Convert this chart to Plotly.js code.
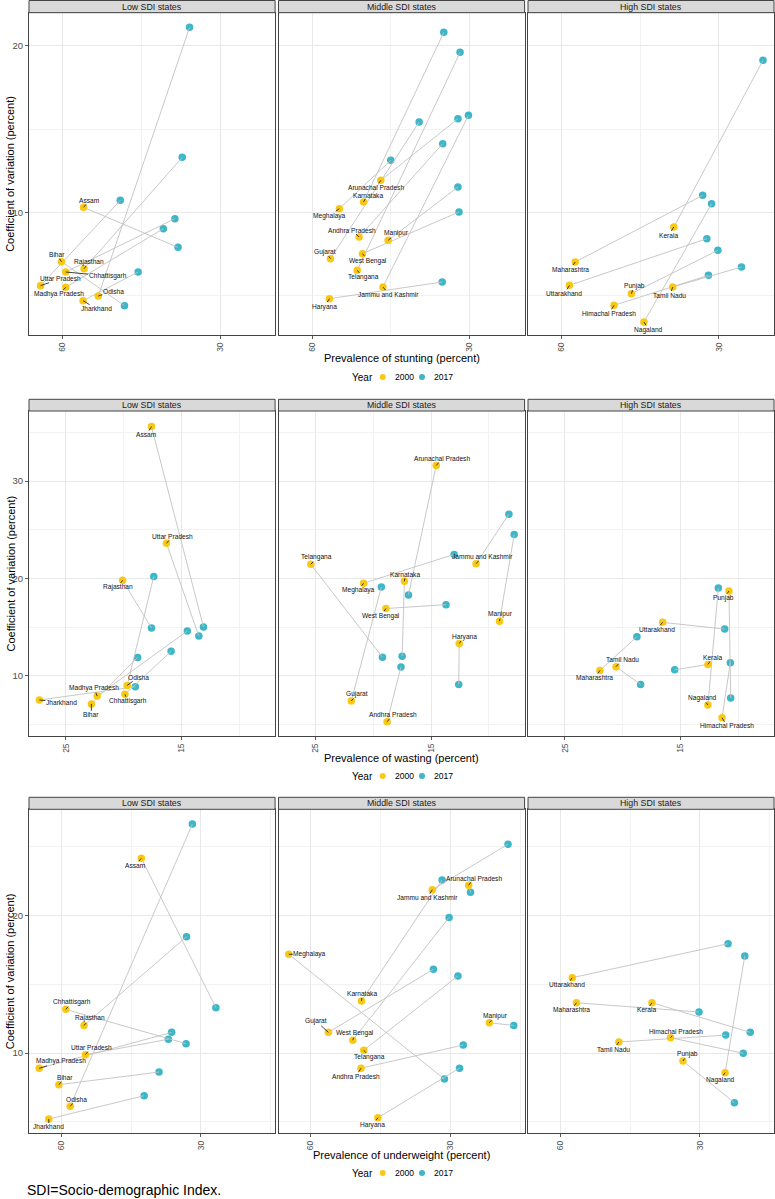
<!DOCTYPE html>
<html><head><meta charset="utf-8">
<script src="https://cdn.plot.ly/plotly-3.0.1.min.js"></script>
<style>html,body{margin:0;padding:0;background:#fff}</style>
</head><body><div id="chart" style="width:775px;height:1199px"></div>
<script>
// ---------- DATA ----------
const panelTitles = ["Low SDI states", "Middle SDI states", "High SDI states"];
const xTitles = ["Prevalence of stunting (percent)", "Prevalence of wasting (percent)", "Prevalence of underweight (percent)"];
const yTitle = "Coefficient of variation (percent)";
const years = ["2000", "2017"];
const footnote = "SDI=Socio-demographic Index.";

const stuntXTicks = [30, 60], stuntYTicks = [10, 20];
const wastXTicks = [15, 25], wastYTicks = [10, 20, 30];
const underXTicks = [30, 60], underYTicks = [10, 20];

// Stunting - Low SDI
const stuntLowStates = ["Assam","Bihar","Rajasthan","Chhattisgarh","Uttar Pradesh","Madhya Pradesh","Odisha","Jharkhand"];
const stuntLowX2000 = [56.0, 60.2, 55.9, 59.4, 64.2, 59.4, 53.2, 56.1];
const stuntLowY2000 = [10.3, 7.04, 6.62, 6.42, 5.6, 5.5, 4.98, 4.7];
const stuntLowX2017 = [38.0, 48.2, 37.2, 38.6, 49.0, 40.8, 35.8, 45.6];
const stuntLowY2017 = [7.9, 4.4, 13.3, 9.62, 10.72, 9.02, 21.1, 6.42];
// Stunting - Middle SDI
const stuntMidStates = ["Arunachal Pradesh","Karnataka","Meghalaya","Andhra Pradesh","Manipur","Gujarat","West Bengal","Telangana","Jammu and Kashmir","Haryana"];
const stuntMidX2000 = [46.9, 50.2, 54.8, 51.05, 45.5, 56.5, 50.4, 51.4, 46.5, 56.7];
const stuntMidY2000 = [11.92, 10.62, 10.22, 8.52, 8.32, 7.22, 7.52, 6.52, 5.52, 4.82];
const stuntMidX2017 = [32.2, 34.9, 45.0, 35.1, 32.2, 39.6, 32.0, 31.8, 30.2, 35.2];
const stuntMidY2017 = [15.62, 20.8, 13.12, 14.12, 11.52, 15.42, 10.02, 19.6, 15.82, 5.82];
// Stunting - High SDI
const stuntHighStates = ["Kerala","Maharashtra","Uttarakhand","Punjab","Tamil Nadu","Himachal Pradesh","Nagaland"];
const stuntHighX2000 = [38.6, 57.4, 58.5, 46.7, 38.8, 50.0, 44.3];
const stuntHighY2000 = [9.12, 7.02, 5.62, 5.12, 5.52, 4.42, 3.42];
const stuntHighX2017 = [21.6, 33.1, 32.3, 30.2, 25.7, 32.0, 31.4];
const stuntHighY2017 = [19.12, 11.02, 8.42, 7.72, 6.72, 6.22, 10.52];

// Wasting - Low SDI
const wastLowStates = ["Assam","Uttar Pradesh","Rajasthan","Odisha","Madhya Pradesh","Chhattisgarh","Jharkhand","Bihar"];
const wastLowX2000 = [17.6, 16.3, 20.1, 19.7, 22.3, 19.9, 27.3, 22.8];
const wastLowY2000 = [35.6, 23.6, 19.8, 9.0, 7.9, 8.08, 7.5, 7.1];
const wastLowX2017 = [13.1, 13.5, 17.6, 17.4, 14.5, 15.9, 19.0, 18.8];
const wastLowY2017 = [15.0, 14.07, 14.9, 20.2, 14.58, 12.5, 8.86, 11.88];
// Wasting - Middle SDI
const wastMidStates = ["Arunachal Pradesh","Telangana","Jammu and Kashmir","Meghalaya","Karnataka","West Bengal","Manipur","Haryana","Gujarat","Andhra Pradesh"];
const wastMidX2000 = [14.55, 25.4, 11.1, 20.84, 17.3, 18.9, 9.07, 12.56, 21.9, 18.8];
const wastMidY2000 = [31.6, 21.44, 21.5, 19.5, 19.7, 16.9, 15.6, 13.3, 7.4, 5.27];
const wastMidX2017 = [16.95, 19.2, 8.26, 13.0, 17.5, 13.7, 7.8, 12.6, 19.3, 17.6];
const wastMidY2017 = [18.3, 11.9, 26.6, 22.46, 12.0, 17.3, 24.5, 9.1, 19.1, 10.9];
// Wasting - High SDI
const wastHighStates = ["Punjab","Uttarakhand","Tamil Nadu","Maharashtra","Kerala","Nagaland","Himachal Pradesh"];
const wastHighX2000 = [10.8, 16.54, 20.58, 21.97, 12.62, 12.62, 11.4];
const wastHighY2000 = [18.7, 15.48, 10.92, 10.54, 11.16, 6.98, 5.67];
const wastHighX2017 = [10.65, 11.17, 18.45, 18.77, 15.5, 11.72, 10.68];
const wastHighY2017 = [7.7, 14.79, 9.1, 14.0, 10.6, 19.0, 11.33];

// Underweight - Low SDI
const underLowStates = ["Assam","Chhattisgarh","Rajasthan","Uttar Pradesh","Madhya Pradesh","Bihar","Odisha","Jharkhand"];
const underLowX2000 = [42.8, 59.0, 55.1, 54.8, 64.7, 60.5, 58.06, 62.65];
const underLowY2000 = [24.14, 13.17, 12.0, 9.88, 8.89, 7.7, 6.13, 5.21];
const underLowX2017 = [26.8, 33.2, 33.1, 37.0, 36.3, 39.0, 31.85, 42.2];
const underLowY2017 = [13.29, 10.68, 18.45, 11.0, 11.5, 8.62, 26.63, 6.9];
// Underweight - Middle SDI
const underMidStates = ["Arunachal Pradesh","Jammu and Kashmir","Meghalaya","Karnataka","Manipur","Gujarat","West Bengal","Telangana","Andhra Pradesh","Haryana"];
const underMidX2000 = [26.1, 33.9, 64.7, 49.1, 21.66, 56.2, 50.95, 48.6, 49.2, 45.57];
const underMidY2000 = [22.18, 21.86, 17.17, 13.78, 12.2, 11.5, 10.93, 10.2, 8.9, 5.3];
const underMidX2017 = [25.7, 17.66, 31.3, 31.8, 16.43, 33.66, 30.3, 28.4, 27.26, 28.06];
const underMidY2017 = [21.67, 25.16, 8.11, 22.56, 12.0, 16.08, 19.85, 15.6, 10.58, 8.9];
// Underweight - High SDI
const underHighStates = ["Uttarakhand","Maharashtra","Kerala","Himachal Pradesh","Tamil Nadu","Punjab","Nagaland"];
const underHighX2000 = [57.4, 56.5, 40.3, 36.3, 47.4, 33.65, 24.6];
const underHighY2000 = [15.47, 13.65, 13.65, 11.11, 10.8, 9.42, 8.57];
const underHighX2017 = [23.96, 30.2, 19.2, 20.7, 24.46, 22.6, 20.37];
const underHighY2017 = [17.94, 12.98, 11.5, 9.98, 11.3, 6.39, 17.04];

// ---------- LABEL PLACEMENT (pixel offsets of each state label from its 2000 point) ----------
const labelOffsets = [
  [[6,-7],[-5,-7],[5,-7],[42,4],[20,-7],[-7,7],[15,-5],[13,8]],
  [[-5,7],[4,-7],[-10,7],[-7,-7],[8,-7],[-5,-7],[6,7],[6,7],[6,7],[-5,8]],
  [[-5,8],[-5,7],[-5,8],[3,-8],[-3,8],[-5,8],[5,8]],
  [[-5,8],[6,-7],[-5,7],[11,-8],[-3,-8],[3,7],[22,2],[0,11]],
  [[6,-7],[6,-7],[6,-7],[-5,7],[1,-7],[-5,7],[1,-7],[5,-7],[6,-7],[6,-7]],
  [[-5,7],[-6,7],[6,-7],[-5,7],[5,-7],[-5,-7],[5,8]],
  [[-6,7],[6,-7],[6,-7],[6,-7],[22,-7],[6,-7],[6,-7],[0,8]],
  [[5,-7],[-5,8],[21,0],[1,-7],[6,-7],[-12,-11],[2,-7],[6,7],[-5,8],[-5,7]],
  [[-5,7],[-5,7],[-5,7],[5,-6],[-5,7],[5,-7],[-5,7]]
];

// ---------- LAYOUT GEOMETRY ----------
const W = 775, H = 1199;
const FONT = "Liberation Sans, Arial, Helvetica, sans-serif";
const YELLOW = "#F9C814", TEAL = "#3DB6C8";
const colX = [[29, 275.1], [278.5, 524.6], [528, 774]];
const rows = [
  {strip:[0.5,12.7], plot:[12.7,335], title:358, legend:377,
   xRange:[66.4,19.5], yRange:[2.64,21.98], xTicks:stuntXTicks, xMinor:[15,45], yTicks:stuntYTicks, yMinor:[5,15]},
  {strip:[399.3,411], plot:[411,736], title:757.7, legend:776,
   xRange:[28.2,6.9], yRange:[3.8,37.2], xTicks:wastXTicks, xMinor:[10,20], yTicks:wastYTicks, yMinor:[5,15,25,35]},
  {strip:[797.3,809.3], plot:[809.3,1133.3], title:1155, legend:1173,
   xRange:[66.9,14.1], yRange:[4.17,27.7], xTicks:underXTicks, xMinor:[15,45], yTicks:underYTicks, yMinor:[5,15,25]}
];
const facets = [
  [stuntLowStates, stuntLowX2000, stuntLowY2000, stuntLowX2017, stuntLowY2017],
  [stuntMidStates, stuntMidX2000, stuntMidY2000, stuntMidX2017, stuntMidY2017],
  [stuntHighStates, stuntHighX2000, stuntHighY2000, stuntHighX2017, stuntHighY2017],
  [wastLowStates, wastLowX2000, wastLowY2000, wastLowX2017, wastLowY2017],
  [wastMidStates, wastMidX2000, wastMidY2000, wastMidX2017, wastMidY2017],
  [wastHighStates, wastHighX2000, wastHighY2000, wastHighX2017, wastHighY2017],
  [underLowStates, underLowX2000, underLowY2000, underLowX2017, underLowY2017],
  [underMidStates, underMidX2000, underMidY2000, underMidX2017, underMidY2017],
  [underHighStates, underHighX2000, underHighY2000, underHighX2017, underHighY2017]
];

const fx = px => px / W;
const fy = py => 1 - py / H;

const traces = [], annotations = [], shapes = [];
const layout = {
  width: W, height: H, margin: {l:0, r:0, t:0, b:0},
  paper_bgcolor: "#fff", plot_bgcolor: "#fff",
  showlegend: false, font: {family: FONT, color: "#000"}
};

facets.forEach((f, i) => {
  const r = Math.floor(i / 3), c = i % 3, row = rows[r];
  const n = i + 1, sfx = n === 1 ? "" : String(n);
  const xa = "x" + sfx, ya = "y" + sfx;
  const [states, x0, y0, x1, y1] = f;

  layout["xaxis" + sfx] = {
    domain: [fx(colX[c][0]), fx(colX[c][1])], anchor: ya, range: row.xRange, autorange: false,
    tickmode: "array", tickvals: row.xTicks, ticktext: row.xTicks.map(String),
    ticks: "outside", ticklen: 3, tickwidth: 0.8, tickcolor: "#333", tickangle: -90,
    tickfont: {size: 8.5, color: "#4d4d4d", family: FONT},
    showgrid: true, gridcolor: "#e8e8e8", gridwidth: 1,
    minor: {tickmode: "array", tickvals: row.xMinor, showgrid: true, gridcolor: "#f2f2f2", gridwidth: 1, ticks: ""},
    showline: true, mirror: true, linecolor: "#444", linewidth: 1, zeroline: false
  };
  layout["yaxis" + sfx] = {
    domain: [fy(row.plot[1]), fy(row.plot[0])], anchor: xa, range: row.yRange, autorange: false,
    tickmode: "array", tickvals: row.yTicks, ticktext: row.yTicks.map(String),
    ticks: c === 0 ? "outside" : "", ticklen: 3, tickwidth: 0.8, tickcolor: "#333",
    showticklabels: c === 0, tickfont: {size: 9.5, color: "#4d4d4d", family: FONT},
    showgrid: true, gridcolor: "#e8e8e8", gridwidth: 1,
    minor: {tickmode: "array", tickvals: row.yMinor, showgrid: true, gridcolor: "#f2f2f2", gridwidth: 1, ticks: ""},
    showline: true, mirror: true, linecolor: "#444", linewidth: 1, zeroline: false
  };

  // 2017 points
  traces.push({type: "scatter", mode: "markers", x: x1, y: y1, xaxis: xa, yaxis: ya, name: years[1],
    marker: {size: 7.5, color: TEAL}, hoverinfo: "skip", cliponaxis: false});
  // connecting lines
  const lx = [], ly = [];
  states.forEach((s, k) => { lx.push(x0[k], x1[k], null); ly.push(y0[k], y1[k], null); });
  traces.push({type: "scatter", mode: "lines", x: lx, y: ly, xaxis: xa, yaxis: ya,
    line: {color: "#c2c2c2", width: 0.9}, hoverinfo: "skip"});
  // 2000 points
  traces.push({type: "scatter", mode: "markers", x: x0, y: y0, xaxis: xa, yaxis: ya, name: years[0],
    marker: {size: 7.5, color: YELLOW}, hoverinfo: "skip", cliponaxis: false});

  // state labels
  states.forEach((s, k) => {
    const off = labelOffsets[i][k];
    annotations.push({xref: xa, yref: ya, x: x0[k], y: y0[k], text: s,
      showarrow: true, ax: off[0], ay: off[1], arrowhead: 0, arrowwidth: 0.8, arrowcolor: "#111",
      standoff: 0, borderpad: 0, font: {size: 6.6, color: "#111", family: FONT}});
  });

  // strip
  shapes.push({type: "rect", xref: "paper", yref: "paper",
    x0: fx(colX[c][0]), x1: fx(colX[c][1]), y0: fy(row.strip[1]), y1: fy(row.strip[0]),
    fillcolor: "#d9d9d9", line: {color: "#444", width: 1}, layer: "above"});
  annotations.push({xref: "paper", yref: "paper", x: fx((colX[c][0] + colX[c][1]) / 2),
    y: fy((row.strip[0] + row.strip[1]) / 2), text: panelTitles[c], showarrow: false,
    xanchor: "center", yanchor: "middle", font: {size: 8.8, color: "#1a1a1a", family: FONT}});
});

rows.forEach((row, r) => {
  // y title
  annotations.push({xref: "paper", yref: "paper", x: fx(10), y: fy((row.plot[0] + row.plot[1]) / 2),
    text: yTitle, textangle: -90, showarrow: false, xanchor: "center", yanchor: "middle",
    font: {size: 11, color: "#000", family: FONT}});
  // x title
  annotations.push({xref: "paper", yref: "paper", x: fx(401.5), y: fy(row.title),
    text: xTitles[r], showarrow: false, xanchor: "center", yanchor: "middle",
    font: {size: 11, color: "#000", family: FONT}});
  // legend
  annotations.push({xref: "paper", yref: "paper", x: fx(362), y: fy(row.legend), text: "Year",
    showarrow: false, xanchor: "center", yanchor: "middle", font: {size: 10, color: "#000", family: FONT}});
  [[382.7, YELLOW, years[0], 392.7], [422, TEAL, years[1], 432]].forEach(([cx, col, txt, tx]) => {
    shapes.push({type: "circle", xref: "paper", yref: "paper", xsizemode: "pixel", ysizemode: "pixel",
      xanchor: fx(cx), yanchor: fy(row.legend), x0: -3, x1: 3, y0: -3, y1: 3,
      fillcolor: col, line: {width: 0}});
    annotations.push({xref: "paper", yref: "paper", x: fx(tx), y: fy(row.legend), text: txt,
      showarrow: false, xanchor: "left", yanchor: "middle", font: {size: 8.6, color: "#000", family: FONT}});
  });
});

annotations.push({xref: "paper", yref: "paper", x: fx(25), y: fy(1190), text: footnote,
  showarrow: false, xanchor: "left", yanchor: "middle", font: {size: 14, color: "#000", family: FONT}});

layout.annotations = annotations;
layout.shapes = shapes;

Plotly.newPlot("chart", traces, layout, {staticPlot: true, displayModeBar: false});
</script></body></html>
